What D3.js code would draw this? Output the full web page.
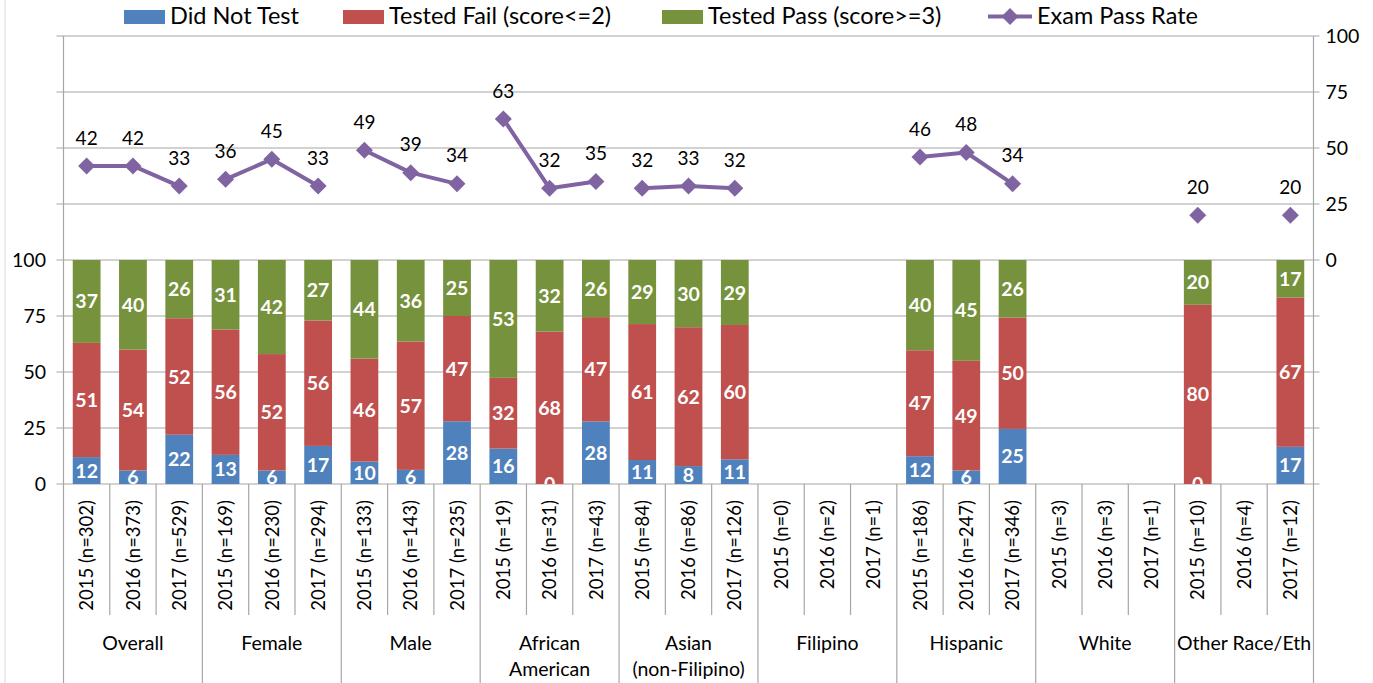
<!DOCTYPE html>
<html><head><meta charset="utf-8">
<script src="https://cdn.jsdelivr.net/npm/d3@7"></script>
<style>
html,body{margin:0;padding:0;background:#fff;}
svg{display:block;font-family:Lato, "Open Sans", sans-serif;}
</style></head>
<body><svg id="c" width="1373" height="683"></svg>
<script>
const groupNames = ["Overall","Female","Male","African American","Asian (non-Filipino)","Filipino","Hispanic","White","Other Race/Eth"];
const groupLines = [["Overall"],["Female"],["Male"],["African","American"],["Asian","(non-Filipino)"],["Filipino"],["Hispanic"],["White"],["Other Race/Eth"]];
const yearLabels = [
 "2015 (n=302)","2016 (n=373)","2017 (n=529)",
 "2015 (n=169)","2016 (n=230)","2017 (n=294)",
 "2015 (n=133)","2016 (n=143)","2017 (n=235)",
 "2015 (n=19)","2016 (n=31)","2017 (n=43)",
 "2015 (n=84)","2016 (n=86)","2017 (n=126)",
 "2015 (n=0)","2016 (n=2)","2017 (n=1)",
 "2015 (n=186)","2016 (n=247)","2017 (n=346)",
 "2015 (n=3)","2016 (n=3)","2017 (n=1)",
 "2015 (n=10)","2016 (n=4)","2017 (n=12)"];
// percentages (estimated to one decimal so each bar totals 100; labels show rounded values)
const didNotTest = [12,6,22, 13,6,17, 10,6.3,28, 15.8,0,27.9, 10.7,8,11, null,null,null, 12.4,6,24.6, null,null,null, 0,null,16.6];
const testedFail = [51,54,52, 56,52,56, 46,57.3,47, 31.6,68,46.6, 60.7,62,60, null,null,null, 47.3,49,49.7, null,null,null, 80,null,66.7];
const testedPass = [37,40,26, 31,42,27, 44,36.4,25, 52.6,32,25.5, 28.6,30,29, null,null,null, 40.3,45,25.7, null,null,null, 20,null,16.7];
const passRate   = [42,42,33, 36,45,33, 49,39,34, 63,32,35, 32,33,32, null,null,null, 46,48,34, null,null,null, 20,null,20];
const seriesNames = ["Did Not Test","Tested Fail (score<=2)","Tested Pass (score>=3)","Exam Pass Rate"];
const leftTicks = [0,25,50,75,100];
const rightTicks = [0,25,50,75,100];

const colors = ["#4F81BD","#C0504D","#76923C"];
const lineColor = "#8064A2";
const gridColor = "#A6A6A6";

const svg = d3.select("#c");
const L = 63.5, R = 1313.5, TOP = 36, ZERO = 484, MID = 260;

const x = d3.scaleBand().domain(d3.range(yearLabels.length)).range([L, R]).paddingInner(0.4).paddingOuter(0.2);
const yL = d3.scaleLinear().domain([0,100]).range([ZERO, MID]);
const yR = d3.scaleLinear().domain([0,100]).range([MID, TOP]);
const step = x.step();
const fmt = v => Math.round(v);

// light outer border
svg.append("line").attr("x1",5).attr("x2",5).attr("y1",0).attr("y2",683).attr("stroke","#D9D9D9");

// gridlines (every 25 over full height)
const gridVals = d3.range(0, 201, 25);
const yAll = d3.scaleLinear().domain([0,200]).range([ZERO, TOP]);
svg.append("g").selectAll("line").data(gridVals).join("line")
  .attr("x1", L-7).attr("x2", R+6)
  .attr("y1", d=>yAll(d)).attr("y2", d=>yAll(d))
  .attr("stroke", gridColor).attr("stroke-width",1.2);

// left axis labels
svg.append("g").selectAll("text").data(leftTicks).join("text")
  .attr("x", 46).attr("y", d=>yL(d)).attr("dy","0.35em")
  .attr("text-anchor","end").attr("font-size",19.5).attr("fill","#000")
  .text(d=>d);
// right axis labels
svg.append("g").selectAll("text").data(rightTicks).join("text")
  .attr("x", R+12).attr("y", d=>yR(d)).attr("dy","0.35em")
  .attr("text-anchor","start").attr("font-size",19.5).attr("fill","#000")
  .text(d=>d);

// stacked bars
svg.append("clipPath").attr("id","plotclip").append("rect")
  .attr("x",L).attr("y",TOP-10).attr("width",R-L).attr("height",ZERO-TOP+10);
const seriesVals = [didNotTest, testedFail, testedPass];
const barG = svg.append("g").attr("clip-path","url(#plotclip)");
const segs = [];
yearLabels.forEach((lab,i)=>{
  let base = 0;
  seriesVals.forEach((arr,s)=>{
    const v = arr[i];
    if (v == null) return;
    segs.push({i, s, v, y0: base, y1: base+v});
    base += v;
  });
});
barG.selectAll("rect").data(segs).join("rect")
  .attr("x", d=>x(d.i)).attr("width", x.bandwidth())
  .attr("y", d=>yL(d.y1)).attr("height", d=>yL(d.y0)-yL(d.y1))
  .attr("fill", d=>colors[d.s]);
barG.selectAll("text").data(segs).join("text")
  .attr("x", d=>x(d.i)+x.bandwidth()/2).attr("y", d=>yL((d.y0+d.y1)/2)).attr("dy","0.36em")
  .attr("text-anchor","middle").attr("font-size",19.5).attr("font-weight","bold").attr("fill","#fff")
  .text(d=>fmt(d.v));

// axes lines
svg.append("line").attr("x1",L).attr("x2",L).attr("y1",TOP).attr("y2",683).attr("stroke",gridColor).attr("stroke-width",1.2);
svg.append("line").attr("x1",R).attr("x2",R).attr("y1",TOP).attr("y2",683).attr("stroke",gridColor).attr("stroke-width",1.2);

// category dividers
const bounds = d3.range(1, yearLabels.length);
svg.append("g").selectAll("line").data(bounds).join("line")
  .attr("x1", d=>L+d*step).attr("x2", d=>L+d*step)
  .attr("y1", ZERO).attr("y2", d=> d%3===0 ? 683 : 615)
  .attr("stroke", gridColor).attr("stroke-width",1.2);

// year labels (rotated)
svg.append("g").selectAll("text").data(yearLabels).join("text")
  .attr("transform",(d,i)=>`translate(${x(i)+x.bandwidth()/2},500) rotate(-90)`)
  .attr("dy","0.36em").attr("text-anchor","end")
  .attr("font-size",18.5).attr("fill","#000")
  .text(d=>d);

// group labels
const gl = svg.append("g").selectAll("text").data(groupLines).join("text")
  .attr("text-anchor","middle").attr("font-size",19.5).attr("fill","#000");
gl.each(function(lines,gi){
  const cx = L + (gi*3+1.5)*step;
  d3.select(this).selectAll("tspan").data(lines).join("tspan")
    .attr("x",cx).attr("y",(d,k)=>643+k*26).attr("dy","0.35em").text(d=>d);
});

// line series (broken per group)
const line = d3.line().defined(d=>d.v!=null).x(d=>x(d.i)+x.bandwidth()/2).y(d=>yR(d.v));
const lineG = svg.append("g");
groupNames.forEach((g,gi)=>{
  const pts = [0,1,2].map(k=>({i:gi*3+k, v:passRate[gi*3+k]}));
  lineG.append("path").datum(pts).attr("d",line).attr("fill","none")
    .attr("stroke",lineColor).attr("stroke-width",4).attr("stroke-linejoin","round");
});
const ptData = passRate.map((v,i)=>({i,v})).filter(d=>d.v!=null);
const diamond = "M0,-8.5L8.5,0L0,8.5L-8.5,0Z";
lineG.selectAll("path.pt").data(ptData).join("path").attr("class","pt")
  .attr("transform",d=>`translate(${x(d.i)+x.bandwidth()/2},${yR(d.v)})`)
  .attr("d",diamond).attr("fill",lineColor);
lineG.selectAll("text").data(ptData).join("text")
  .attr("x",d=>x(d.i)+x.bandwidth()/2).attr("y",d=>yR(d.v)-28).attr("dy","0.35em")
  .attr("text-anchor","middle").attr("font-size",19).attr("fill","#000")
  .text(d=>d.v);

// legend
const leg = svg.append("g");
const legX = [124, 343, 662, 988];
[0,1,2].forEach(s=>{
  leg.append("rect").attr("x",legX[s]).attr("y",10).attr("width",41).attr("height",14).attr("fill",colors[s]);
  leg.append("text").attr("x",legX[s]+46).attr("y",24).attr("font-size",23.5).attr("fill","#000").text(seriesNames[s]);
});
leg.append("line").attr("x1",legX[3]).attr("x2",legX[3]+44).attr("y1",16.5).attr("y2",16.5).attr("stroke",lineColor).attr("stroke-width",4);
leg.append("path").attr("transform",`translate(${legX[3]+22},16.5)`).attr("d",diamond).attr("fill",lineColor);
leg.append("text").attr("x",legX[3]+49).attr("y",24).attr("font-size",23.5).attr("fill","#000").text(seriesNames[3]);
</script></body></html>
